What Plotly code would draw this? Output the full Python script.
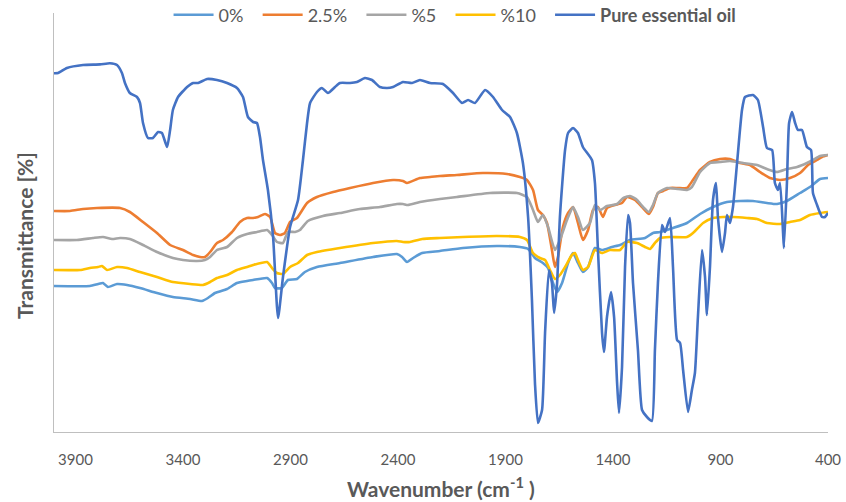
import plotly.graph_objects as go

# ---------------- data (wavenumber cm^-1, transmittance arbitrary %) ----------------
pure_wn = [4000, 3981, 3940, 3865, 3786, 3740, 3707, 3684, 3670, 3647, 3614, 3600, 3586, 3563, 3540, 3516,
           3498, 3474, 3460, 3447, 3423, 3381, 3353, 3330, 3288, 3242, 3195, 3149, 3121, 3098, 3074, 3056,
           3042, 3028, 3005, 2981, 2958, 2935, 2902, 2865, 2842, 2823, 2809, 2777, 2754, 2726, 2693, 2670,
           2623, 2591, 2554, 2521, 2484, 2451, 2423, 2377, 2335, 2298, 2251, 2191, 2144, 2102, 2074, 2042,
           1995, 1958, 1916, 1879, 1847, 1819, 1795, 1777, 1763, 1749, 1730, 1716, 1698, 1684, 1674, 1660,
           1647, 1623, 1609, 1586, 1563, 1540, 1498, 1484, 1470, 1451, 1442, 1428, 1409, 1395, 1381, 1372,
           1358, 1344, 1330, 1321, 1307, 1284, 1265, 1242, 1219, 1205, 1191, 1172, 1158, 1135, 1121, 1102,
           1088, 1074, 1051, 1033, 1019, 1005, 986, 972, 963, 949, 935, 921, 912, 893, 879, 870,
           856, 842, 823, 800, 786, 749, 726, 702, 684, 660, 647, 633, 623, 609, 605, 591,
           581, 567, 553, 540, 521, 498, 479, 470, 451, 437, 428, 414, 400]
pure_t = [89.7, 89.75, 91.0, 91.75, 91.9, 92.2, 91.75, 89.75, 87.25, 84.75, 83.75, 82.25, 77.25, 73.5, 73.5, 75.0,
          74.75, 71.25, 75.5, 80.5, 83.75, 86.25, 87.25, 87.25, 88.25, 88.0, 87.25, 86.0, 83.75, 78.75, 77.5, 77.25,
          73.75, 68.0, 60.5, 48.75, 28.5, 38.75, 51.25, 58.0, 68.0, 77.25, 82.25, 85.0, 86.0, 84.75, 86.25, 87.25,
          87.25, 87.5, 88.5, 88.0, 86.25, 86.0, 86.25, 87.5, 87.25, 88.0, 87.25, 87.0, 84.75, 82.25, 83.0, 82.25,
          85.5, 83.75, 80.5, 78.75, 74.75, 67.25, 53.75, 33.0, 12.25, 2.25, 5.5, 24.75, 40.5, 37.25, 29.75, 37.25,
          53.75, 70.5, 74.75, 76.0, 74.75, 71.25, 68.0, 62.25, 45.5, 24.75, 20.0, 28.75, 35.0, 28.75, 12.25, 4.75,
          16.25, 41.25, 54.25, 52.25, 37.25, 20.5, 5.5, 3.75, 2.75, 20.5, 37.25, 51.75, 50.0, 53.5, 41.25, 23.0,
          22.25, 15.5, 5.0, 10.5, 14.75, 28.75, 45.5, 38.75, 29.25, 41.25, 58.0, 62.25, 53.75, 45.0, 49.75, 54.25,
          52.25, 56.25, 67.25, 80.5, 83.75, 84.25, 83.0, 76.25, 71.0, 70.5, 62.25, 60.5, 62.25, 49.75, 46.0, 62.25,
          77.25, 80.0, 77.25, 75.5, 75.5, 71.25, 70.5, 59.75, 56.75, 54.75, 53.75, 53.75, 54.75]

p25_wn = [4000, 3926, 3865, 3800, 3693, 3647, 3586, 3521, 3460, 3400, 3353, 3321, 3298, 3274, 3242, 3214,
          3172, 3135, 3102, 3074, 3051, 3019, 2995, 2972, 2949, 2926, 2902, 2870, 2823, 2777, 2702, 2623,
          2516, 2423, 2377, 2358, 2298, 2251, 2205, 2126, 2005, 1893, 1833, 1800, 1772, 1749, 1726, 1707,
          1684, 1670, 1656, 1633, 1609, 1586, 1563, 1540, 1516, 1493, 1470, 1447, 1428, 1391, 1358, 1335,
          1298, 1265, 1233, 1214, 1191, 1167, 1135, 1098, 1056, 1028, 995, 949, 902, 856, 809, 763,
          716, 670, 623, 577, 530, 493, 451, 428, 400]
p25_t = [55.25, 55.25, 55.75, 56.0, 56.0, 55.0, 52.5, 49.75, 46.75, 45.5, 44.25, 43.75, 43.75, 45.0, 47.25, 48.0,
         50.0, 52.5, 53.5, 53.5, 53.75, 54.5, 53.75, 49.75, 49.25, 49.75, 52.5, 53.5, 57.25, 58.75, 60.0, 61.0,
         62.25, 63.0, 62.75, 62.25, 63.5, 63.75, 64.0, 64.25, 64.75, 64.5, 63.75, 63.0, 60.5, 55.5, 54.25, 52.25,
         45.5, 41.25, 43.75, 51.25, 54.75, 56.25, 52.25, 48.0, 50.5, 55.5, 56.25, 53.75, 56.0, 56.75, 57.25, 58.75,
         58.0, 56.25, 54.5, 56.25, 59.75, 60.25, 61.0, 61.0, 61.0, 63.0, 65.5, 67.5, 68.25, 68.25, 67.25, 66.75,
         65.0, 63.5, 63.0, 63.5, 64.75, 66.75, 68.0, 68.75, 69.25]

p5_wn = [4000, 3893, 3819, 3772, 3730, 3693, 3647, 3586, 3521, 3447, 3400, 3335, 3298, 3274, 3242, 3195,
         3149, 3102, 3056, 3009, 2986, 2963, 2935, 2912, 2879, 2856, 2819, 2749, 2670, 2577, 2484, 2405,
         2377, 2354, 2298, 2205, 2126, 1972, 1847, 1800, 1772, 1749, 1726, 1702, 1670, 1647, 1614, 1586,
         1563, 1540, 1507, 1484, 1460, 1428, 1381, 1353, 1321, 1288, 1260, 1233, 1214, 1191, 1149, 1098,
         1056, 1033, 995, 949, 902, 856, 795, 730, 684, 637, 591, 544, 498, 470, 437, 400]
p5_t = [48.0, 48.0, 48.5, 48.75, 48.25, 48.5, 48.25, 46.75, 45.0, 43.5, 43.0, 42.75, 43.0, 43.75, 45.5, 46.25,
        48.5, 49.5, 50.0, 50.5, 49.25, 47.5, 47.25, 50.0, 50.0, 50.5, 52.75, 54.0, 54.75, 55.75, 56.25, 57.0,
        57.0, 56.75, 57.5, 58.25, 58.75, 59.75, 59.75, 58.75, 55.5, 52.5, 54.25, 51.25, 45.5, 48.0, 53.0, 56.25,
        53.75, 50.5, 52.25, 56.75, 55.5, 56.5, 57.0, 58.5, 59.0, 58.0, 56.25, 55.0, 56.75, 59.75, 61.0, 60.75,
        60.5, 61.25, 65.0, 67.25, 67.5, 67.75, 67.25, 66.75, 65.75, 65.0, 65.75, 66.25, 67.25, 68.0, 69.0, 69.25]

p10_wn = [4000, 3879, 3833, 3795, 3777, 3753, 3707, 3660, 3600, 3521, 3447, 3367, 3307, 3274, 3242, 3195,
          3149, 3102, 3074, 3009, 2986, 2963, 2935, 2902, 2865, 2823, 2777, 2670, 2516, 2405, 2377, 2344,
          2288, 2205, 2098, 1940, 1833, 1800, 1772, 1740, 1716, 1693, 1670, 1647, 1623, 1591, 1577, 1563,
          1540, 1516, 1484, 1451, 1414, 1367, 1335, 1288, 1251, 1228, 1205, 1181, 1135, 1056, 1028, 981,
          935, 888, 842, 777, 730, 684, 623, 577, 530, 484, 437, 400]
p10_t = [40.5, 40.5, 41.0, 41.25, 41.5, 40.5, 41.25, 41.0, 40.0, 38.75, 37.5, 37.0, 36.75, 37.5, 38.5, 39.25,
         40.5, 41.25, 41.75, 42.5, 41.0, 39.75, 39.5, 41.25, 42.25, 44.25, 45.0, 46.0, 47.25, 47.75, 47.5, 47.5,
         48.25, 48.5, 48.75, 49.0, 48.75, 48.0, 44.75, 43.5, 43.0, 40.5, 38.25, 39.25, 41.25, 44.25, 44.75, 43.0,
         40.5, 41.25, 45.5, 44.75, 45.5, 45.5, 47.5, 47.25, 46.25, 45.75, 47.25, 48.5, 48.75, 48.75, 49.75, 52.25,
         53.5, 53.75, 53.75, 53.5, 53.25, 52.25, 52.0, 52.5, 53.0, 54.25, 54.75, 55.0]

p0_wn = [4000, 3833, 3795, 3772, 3749, 3707, 3660, 3600, 3521, 3447, 3367, 3312, 3284, 3251, 3195, 3149,
         3102, 3074, 3009, 2986, 2972, 2940, 2912, 2870, 2833, 2777, 2670, 2516, 2405, 2381, 2358, 2330,
         2288, 2205, 2098, 1940, 1833, 1795, 1763, 1726, 1702, 1679, 1660, 1637, 1609, 1586, 1563, 1540,
         1516, 1484, 1451, 1405, 1367, 1321, 1251, 1214, 1181, 1121, 1056, 995, 935, 870, 809, 749,
         684, 637, 591, 530, 484, 437, 400]
p0_t = [36.5, 36.5, 37.0, 37.25, 36.25, 37.0, 36.75, 36.0, 34.75, 33.75, 33.25, 32.75, 33.5, 34.75, 35.75, 37.25,
        37.75, 38.0, 38.5, 37.25, 36.0, 36.0, 38.0, 38.25, 40.0, 41.25, 42.25, 43.75, 44.5, 43.75, 42.5, 43.5,
        44.75, 45.25, 46.0, 46.5, 46.25, 45.75, 43.5, 42.25, 41.0, 37.25, 35.0, 37.25, 42.25, 44.75, 42.25, 40.0,
        41.25, 46.0, 45.5, 46.25, 46.75, 48.0, 48.5, 49.75, 50.0, 51.0, 52.25, 54.5, 56.25, 57.5, 57.75, 57.75,
        57.25, 57.0, 57.75, 59.75, 61.25, 63.25, 63.5]

x_ticks = [3900, 3400, 2900, 2400, 1900, 1400, 900, 400]
series_names = ["0%", "2.5%", "%5", "%10", "<b>Pure essential oil</b>"]
colors = ["#5B9BD5", "#ED7D31", "#A5A5A5", "#FFC000", "#4472C4"]

# ---------------- figure ----------------
FONT = "Lato, 'Open Sans', sans-serif"
PAD = "\u00a0\u00a0"
fig = go.Figure()
data = [(p0_wn, p0_t), (p25_wn, p25_t), (p5_wn, p5_t), (p10_wn, p10_t), (pure_wn, pure_t)]
for i, ((wn, t), name, col) in enumerate(zip(data, series_names, colors)):
    label = name + (PAD if i < len(series_names) - 1 else "")
    fig.add_trace(go.Scatter(x=wn, y=t, mode="lines", name=label,
                             line=dict(color=col, width=2.6, shape="spline", smoothing=0.5)))

fig.update_layout(
    width=846, height=502,
    margin=dict(l=54, r=18, t=13, b=70, autoexpand=False),
    paper_bgcolor="white", plot_bgcolor="white",
    font=dict(family=FONT, color="#595959"),
    showlegend=True,
    legend=dict(orientation="h", x=0.148, xanchor="left", y=0.995, yanchor="middle",
                font=dict(size=18, color="#595959"), bgcolor="rgba(0,0,0,0)",
                itemwidth=40, traceorder="normal"),
    xaxis=dict(range=[4000, 400], tickvals=x_ticks, ticktext=[str(v) for v in x_ticks],
               showgrid=False, zeroline=False, showline=True, linecolor="#BFBFBF", linewidth=1,
               ticks="", tickfont=dict(size=15, color="#595959"), ticklabelstandoff=14,
               automargin=False),
    yaxis=dict(range=[0, 104.75], showticklabels=False, showgrid=False, zeroline=False,
               showline=True, linecolor="#BFBFBF", linewidth=1, ticks="", automargin=False),
    annotations=[
        dict(text="<b>Transmittance [%]</b>", xref="paper", yref="paper", x=-0.039, y=0.470,
             textangle=-90, showarrow=False, xanchor="center", yanchor="middle",
             font=dict(size=21, color="#595959", family=FONT)),
        dict(text="<b>Wavenumber (cm<sup>-1</sup> )</b>", xref="paper", yref="paper", x=0.5, y=-0.131,
             showarrow=False, xanchor="center", yanchor="middle",
             font=dict(size=21, color="#595959", family=FONT)),
    ],
)

fig.write_html("out.html")
